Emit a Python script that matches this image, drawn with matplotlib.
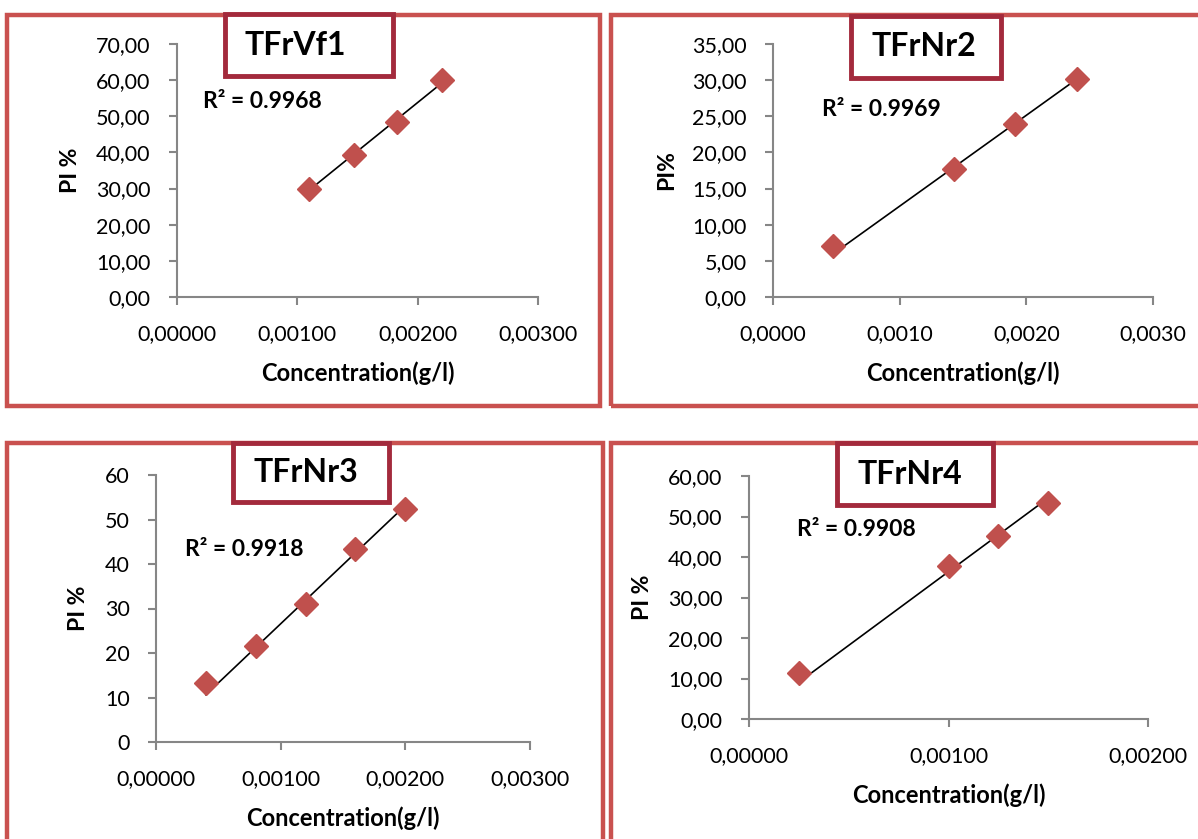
import matplotlib.pyplot as plt
import numpy as np
from matplotlib.patches import Rectangle
from matplotlib.ticker import FuncFormatter

plt.rcParams['font.family'] = ['Lato', 'DejaVu Sans']

W, H = 1198, 839

# data
names = ['TFrVf1', 'TFrNr2', 'TFrNr3', 'TFrNr4']
r2 = ['0.9968', '0.9969', '0.9918', '0.9908']
ylabels = ['PI %', 'PI%', 'PI %', 'PI %']

x1 = [0.00110, 0.00147, 0.00183, 0.00220]
y1 = [30.0, 39.2, 48.3, 60.0]
x2 = [0.00047, 0.00143, 0.00191, 0.00240]
y2 = [7.0, 17.7, 23.9, 30.2]
x3 = [0.00040, 0.00080, 0.00120, 0.00160, 0.00200]
y3 = [13.3, 21.6, 30.9, 43.3, 52.4]
x4 = [0.00025, 0.00100, 0.00125, 0.00150]
y4 = [11.4, 37.9, 45.3, 53.3]

xs = [x1, x2, x3, x4]
ys = [y1, y2, y3, y4]
xmax = [0.003, 0.003, 0.003, 0.002]
xstep = [0.001, 0.001, 0.001, 0.001]
ymax = [70, 35, 60, 60]
ystep = [10, 5, 10, 10]
xdec = [5, 4, 5, 5]
ydec = [2, 2, 0, 2]

# pixel layouts: axes (left, top, right, bottom), outer box, title box, r2 position
axes_px = [(177, 44, 538, 297), (773, 44, 1153, 297),
           (156, 475, 530, 742), (749, 476, 1148, 719)]
outer_px = [(7, 15, 600, 406), (611, 15, 1205, 406),
            (7, 443, 603, 850), (611, 443, 1205, 850)]
title_px = [(225, 14, 393, 76), (851, 16, 1001, 78),
            (233, 443, 389, 502), (837, 443, 993, 505)]
r2_px = [(203, 102), (822, 110), (185, 550), (797, 530)]

red = '#C0504D'
box_red = '#C9514F'
title_red = '#A32A3C'
grey = '#868686'

fig = plt.figure(figsize=(W / 100, H / 100), dpi=100)


def fbox(l, t, r, b):
    return (l / W, 1 - b / H, (r - l) / W, (b - t) / H)


for i in range(4):
    l, t, r, b = outer_px[i]
    x0, y0, w, h = fbox(l, t, r, b)
    fig.patches.append(Rectangle((x0, y0), w, h, transform=fig.transFigure,
                                 fill=False, edgecolor=box_red, lw=3.2, zorder=0))

    ax = fig.add_axes(fbox(*axes_px[i]))
    x = np.array(xs[i])
    y = np.array(ys[i])
    # trendline through the origin (intercept set to 0)
    m = np.sum(x * y) / np.sum(x * x)
    ax.plot([x.min(), x.max()], [m * x.min(), m * x.max()],
            color='black', lw=1.2, zorder=2)
    ax.plot(x, y, 'D', color=red, ms=12, zorder=3)

    ax.set_xlim(0, xmax[i])
    ax.set_ylim(0, ymax[i])
    ax.set_xticks(np.arange(0, xmax[i] + 1e-9, xstep[i]))
    ax.set_yticks(np.arange(0, ymax[i] + 1e-9, ystep[i]))
    xd, yd = xdec[i], ydec[i]
    ax.xaxis.set_major_formatter(FuncFormatter(lambda v, p, d=xd: f'{v:.{d}f}'.replace('.', ',')))
    ax.yaxis.set_major_formatter(FuncFormatter(lambda v, p, d=yd: f'{v:.{d}f}'.replace('.', ',')))
    for s in ['top', 'right']:
        ax.spines[s].set_visible(False)
    for s in ['left', 'bottom']:
        ax.spines[s].set_color(grey)
        ax.spines[s].set_linewidth(1.5)
    ax.tick_params(colors=grey, width=1.5, length=6, labelsize=15.5, labelcolor='black')
    ax.tick_params(axis='x', pad=13.5)
    ax.tick_params(axis='y', pad=13)
    ax.set_xlabel('Concentration(g/l)', fontsize=17, fontweight='bold', labelpad=12.5)
    ax.set_ylabel(ylabels[i], fontsize=16.5, fontweight='bold', labelpad=11)
    ax.patch.set_alpha(0)

    l, t, r, b = title_px[i]
    x0, y0, w, h = fbox(l, t, r, b)
    fig.patches.append(Rectangle((x0, y0), w, h, transform=fig.transFigure,
                                 facecolor='white', edgecolor=title_red, lw=3.5, zorder=5))
    fig.text((l + 20) / W, y0 + h / 2, names[i], ha='left', va='center',
             fontsize=23, fontweight='bold', zorder=6)
    rx, ry = r2_px[i]
    fig.text(rx / W, 1 - ry / H, 'R² = ' + r2[i], ha='left', va='center',
             fontsize=16.5, fontweight='bold')

fig.savefig('out.png', dpi=100)
